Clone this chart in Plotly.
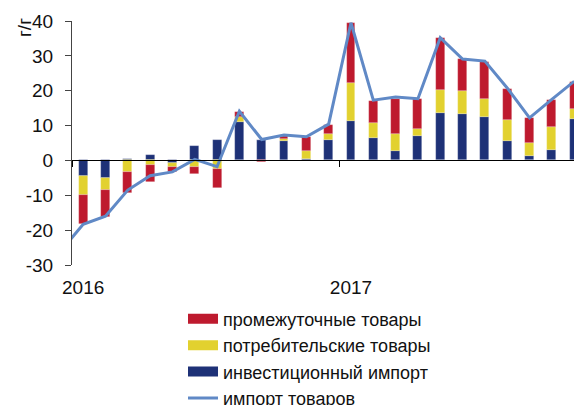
import plotly.graph_objects as go

# Monthly index: 0 = Jan 2016 ... 22 = Nov 2017
months = list(range(23))
invest = [-4.4, -5.0, 0.5, 1.7, -0.6, 4.2, 6.0, 11.1, 6.0, 5.5, 0.3, 5.8,
          11.4, 6.5, 2.7, 7.0, 13.5, 13.3, 12.5, 5.7, 1.3, 3.1, 11.9]
consumer = [-5.5, -3.5, -3.3, -1.3, -1.2, -1.8, -2.6, 1.4, 0.0, 0.6, 2.5, 1.9,
            10.7, 4.3, 5.0, 2.1, 6.8, 6.5, 5.0, 5.8, 3.8, 6.4, 2.9]
intermediate = [-8.3, -7.6, -6.0, -4.8, -1.5, -2.0, -5.4, 1.4, -0.4, 0.9, 3.9, 2.4,
                17.2, 6.2, 9.9, 8.6, 14.7, 9.2, 10.8, 9.1, 7.1, 7.7, 7.7]
# line starts one month earlier (Dec 2015 = -1)
line_months = list(range(-1, 23))
total = [-26.0, -18.3, -16.0, -8.5, -4.4, -3.3, 0.3, -1.8, 14.1, 6.0, 7.3, 6.8, 10.4,
         39.5, 17.3, 18.2, 17.7, 35.2, 29.1, 28.5, 20.8, 12.2, 17.5, 22.7]

year_pos = [0, 12]
year_labels = ["2016", "2017"]
year_bounds = [-0.5, 11.5]
y_ticks = [40, 30, 20, 10, 0, -10, -20, -30]
y_tick_labels = ["40", "30", "20", "10", "0", "-10", "-20", "-30"]

names = ["промежуточные товары", "потребительские товары", "инвестиционный импорт", "импорт товаров"]
RED, YEL, NAVY, LINE = "#BE1A2E", "#E2D12F", "#1E3177", "#6089C6"
FONT = "Liberation Sans, Arial, sans-serif"
FS = 19

fig = go.Figure()
outline = dict(color="rgba(255,255,255,0.35)", width=0.6)
fig.add_bar(x=months, y=invest, marker=dict(color=NAVY, line=outline), width=0.4, showlegend=False)
fig.add_bar(x=months, y=consumer, marker=dict(color=YEL, line=outline), width=0.4, showlegend=False)
fig.add_bar(x=months, y=intermediate, marker=dict(color=RED, line=outline), width=0.4, showlegend=False)
fig.add_scatter(x=line_months, y=total, mode="lines", line=dict(color=LINE, width=3), showlegend=False)

# legend entries
for i, (nm, col, w) in enumerate(zip(names, [RED, YEL, NAVY, LINE], [11, 11, 11, 3])):
    fig.add_scatter(x=[None], y=[None], mode="lines", name=nm, line=dict(color=col, width=w),
                    legendrank=i + 1)

# zero-line axis with year-boundary ticks
fig.add_scatter(x=[None], y=[None], xaxis="x2", showlegend=False)

XR = [-0.5, 22.71]
fig.update_layout(
    width=582, height=405,
    margin=dict(l=64, r=0, t=13, b=148, autoexpand=False),
    paper_bgcolor="white", plot_bgcolor="white",
    barmode="relative", bargap=0,
    font=dict(family=FONT, size=FS, color="#111"),
    showlegend=True,
    legend=dict(x=0.2143, y=-0.146, xanchor="left", yanchor="top",
                font=dict(family=FONT, size=18, color="#111"),
                tracegroupgap=0, bgcolor="rgba(0,0,0,0)"),
    xaxis=dict(range=XR, tickvals=year_pos, ticktext=year_labels,
               showgrid=False, zeroline=False, showline=False, ticks="",
               ticklabelstandoff=9, tickfont=dict(size=FS)),
    xaxis2=dict(range=XR, overlaying="x", anchor="free", position=30 / 70,
                tickvals=year_bounds, ticktext=["", ""], showgrid=False, zeroline=False,
                showline=True, linecolor="black", linewidth=1,
                ticks="outside", ticklen=6, tickcolor="black", side="bottom"),
    yaxis=dict(range=[-30, 40], tickvals=y_ticks, ticktext=y_tick_labels,
               showgrid=False, zeroline=False, showline=True, linecolor="#444", linewidth=1,
               ticks="outside", ticklen=6, tickcolor="#444", ticklabelstandoff=8,
               tickfont=dict(size=FS)),
    annotations=[dict(text="г/г", xref="paper", yref="paper", x=-0.0927, y=0.975,
                      xanchor="center", yanchor="middle",
                      textangle=-90, showarrow=False, font=dict(size=FS, color="#111"))],
)

fig.write_html("out.html")
